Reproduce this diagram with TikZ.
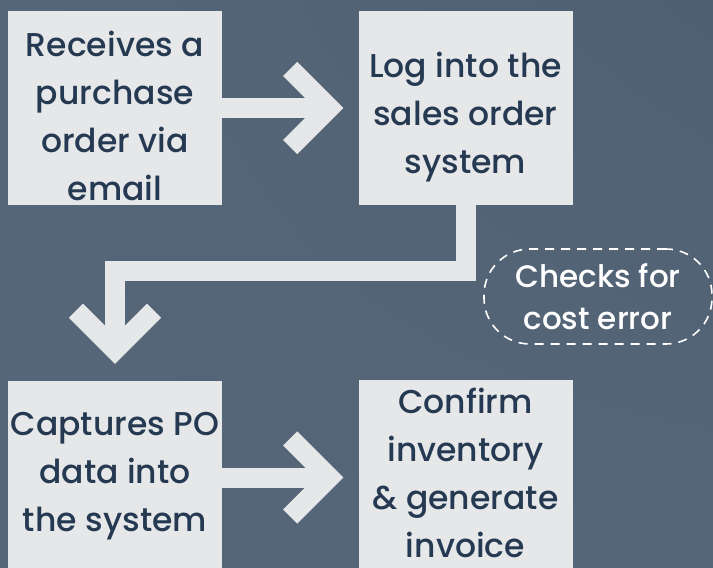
\documentclass[tikz,border=0pt]{standalone}
\usepackage{fontspec}
\setmainfont{Poppins}[UprightFont=* Medium]
\usepackage{tikz}
\usetikzlibrary{arrows.meta}
\usetikzlibrary{shadings}
\usetikzlibrary{positioning}
\definecolor{bgslate}{HTML}{566679}
\definecolor{bgdark}{HTML}{4F6073}
\definecolor{boxgrey}{HTML}{E6E7E8}
\definecolor{boxtext}{HTML}{253A52}

\begin{document}
\begin{tikzpicture}[
  x=1pt,y=-1pt,
  stepbox/.style={
    rectangle,
    fill=boxgrey,
    minimum width=214pt,
    minimum height=194pt,
    inner sep=0pt},
  steptext/.style={
    text=boxtext,
    inner sep=0pt,
    align=center,
    font=\fontsize{33}{48}\selectfont},
  flow/.style={
    draw=boxgrey,
    line width=20pt,
    miter limit=10,
    -{Straight Barb[length=39pt,width=78pt]}},
  check/.style={
    draw=white,
    line width=1.6pt,
    dash pattern=on 9pt off 7pt,
    rounded corners=46pt,
    minimum width=228pt,
    minimum height=95pt,
    text=white,
    align=center,
    font=\fontsize{31}{42}\selectfont},
]

  \def\leftcol{115}%
  \def\rightcol{465.5}%
  \def\toprow{108}%
  \def\botrow{478}%

  % background
  \shade[upper left=bgslate,lower left=bgslate,lower right=bgslate,upper right=bgdark]
    (0,0) rectangle (713,568);
  \useasboundingbox (0,0) rectangle (713,568);
  \clip (0,0) rectangle (713,568);

  % Steps
  \node[stepbox] (receive) at (\leftcol,\toprow) {};
  \node[steptext] (receive_t) at (\leftcol,115.5) {Receives a\\purchase\\order via\\email};

  \node[stepbox] (login) at (\rightcol,\toprow) {};
  \node[steptext] (login_t) at (\rightcol,117) {Log into the\\sales order\\system};

  \node[stepbox] (capture) at (\leftcol,\botrow) {};
  \node[steptext] (capture_t) at (\leftcol,476.5) {Captures PO\\data into\\the system};

  \node[stepbox] (confirm) at (\rightcol,\botrow-1) {};
  \node[steptext] (confirm_t) at (\rightcol,473) {Confirm\\inventory\\\& generate\\invoice};

  % Side note
  \node[check] (costcheck) at (598,296.5) {Checks for\\cost error};

  % Flow arrows
  \draw[flow,shorten >=15pt] (receive.east) -- (login.west);
  \draw[flow,shorten >=17pt] (login.south) -- ++(0,66) -| (capture.north);
  \draw[flow,shorten >=15pt] (capture.east |- 0,477.5) -- (confirm.west |- 0,477.5);

\end{tikzpicture}
\end{document}
